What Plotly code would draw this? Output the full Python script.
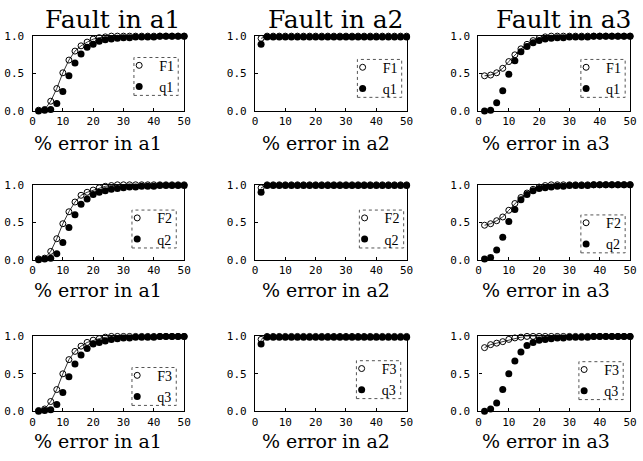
import plotly.graph_objects as go

# ---------------- data ----------------
x_err = [2, 4, 6, 8, 10, 12, 14, 16, 18, 20, 22, 24, 26, 28, 30,
         32, 34, 36, 38, 40, 42, 44, 46, 48, 50]

col_params = ["a1", "a2", "a3"]
row_labels = ["1", "2", "3"]

# Fault in a1
F1_a1 = [0.01, 0.02, 0.13, 0.30, 0.51, 0.68, 0.80, 0.87, 0.92, 0.96, 0.98, 0.99, 1.0,
         1.0, 1.0, 1.0, 1.0, 1.0, 1.0, 1.0, 1.0, 1.0, 1.0, 1.0, 1.0]
q1_a1 = [0.0, 0.01, 0.02, 0.10, 0.26, 0.47, 0.64, 0.76, 0.85, 0.89, 0.93, 0.95, 0.96,
         0.97, 0.98, 0.98, 0.99, 0.99, 0.99, 0.99, 1.0, 1.0, 1.0, 1.0, 1.0]
F2_a1 = [0.01, 0.02, 0.11, 0.28, 0.48, 0.64, 0.77, 0.86, 0.90, 0.93, 0.96, 0.98, 0.99,
         1.0, 1.0, 1.0, 1.0, 1.0, 1.0, 1.0, 1.0, 1.0, 1.0, 1.0, 1.0]
q2_a1 = [0.0, 0.01, 0.02, 0.08, 0.23, 0.43, 0.60, 0.74, 0.81, 0.87, 0.90, 0.92, 0.94,
         0.95, 0.96, 0.97, 0.97, 0.98, 0.98, 0.98, 0.99, 0.99, 0.99, 0.99, 0.99]
F3_a1 = [0.01, 0.03, 0.13, 0.29, 0.50, 0.69, 0.80, 0.87, 0.92, 0.95, 0.97, 0.99, 1.0,
         1.0, 1.0, 1.0, 1.0, 1.0, 1.0, 1.0, 1.0, 1.0, 1.0, 1.0, 1.0]
q3_a1 = [0.0, 0.01, 0.02, 0.09, 0.25, 0.46, 0.63, 0.75, 0.84, 0.90, 0.92, 0.94, 0.96,
         0.97, 0.98, 0.98, 0.99, 0.99, 0.99, 0.99, 1.0, 1.0, 1.0, 1.0, 1.0]

# Fault in a2
F1_a2 = [0.97, 1.0, 1.0, 1.0, 1.0, 1.0, 1.0, 1.0, 1.0, 1.0, 1.0, 1.0, 1.0,
         1.0, 1.0, 1.0, 1.0, 1.0, 1.0, 1.0, 1.0, 1.0, 1.0, 1.0, 1.0]
q1_a2 = [0.89, 0.99, 0.99, 0.99, 0.99, 0.99, 0.99, 0.99, 0.99, 0.99, 0.99, 0.99, 0.99,
         0.99, 0.99, 0.99, 0.99, 0.99, 0.99, 0.99, 0.99, 0.99, 0.99, 0.99, 0.99]
F2_a2 = [0.96, 1.0, 1.0, 1.0, 1.0, 1.0, 1.0, 1.0, 1.0, 1.0, 1.0, 1.0, 1.0,
         1.0, 1.0, 1.0, 1.0, 1.0, 1.0, 1.0, 1.0, 1.0, 1.0, 1.0, 1.0]
q2_a2 = [0.90, 0.99, 0.99, 0.99, 0.99, 0.99, 0.99, 0.99, 0.99, 0.99, 0.99, 0.99, 0.99,
         0.99, 0.99, 0.99, 0.99, 0.99, 0.99, 0.99, 0.99, 0.99, 0.99, 0.99, 0.99]
F3_a2 = [0.96, 1.0, 1.0, 1.0, 1.0, 1.0, 1.0, 1.0, 1.0, 1.0, 1.0, 1.0, 1.0,
         1.0, 1.0, 1.0, 1.0, 1.0, 1.0, 1.0, 1.0, 1.0, 1.0, 1.0, 1.0]
q3_a2 = [0.90, 0.99, 0.99, 0.99, 0.99, 0.99, 0.99, 0.99, 0.99, 0.99, 0.99, 0.99, 0.99,
         0.99, 0.99, 0.99, 0.99, 0.99, 0.99, 0.99, 0.99, 0.99, 0.99, 0.99, 0.99]

# Fault in a3
F1_a3 = [0.47, 0.48, 0.51, 0.57, 0.66, 0.75, 0.83, 0.89, 0.94, 0.97, 0.99, 1.0, 1.0,
         1.0, 1.0, 1.0, 1.0, 1.0, 1.0, 1.0, 1.0, 1.0, 1.0, 1.0, 1.0]
q1_a3 = [0.0, 0.01, 0.11, 0.27, 0.49, 0.67, 0.79, 0.86, 0.91, 0.94, 0.96, 0.97, 0.98,
         0.98, 0.99, 0.99, 0.99, 0.99, 1.0, 1.0, 1.0, 1.0, 1.0, 1.0, 1.0]
F2_a3 = [0.46, 0.48, 0.52, 0.57, 0.66, 0.75, 0.83, 0.89, 0.94, 0.97, 0.99, 1.0, 1.0,
         1.0, 1.0, 1.0, 1.0, 1.0, 1.0, 1.0, 1.0, 1.0, 1.0, 1.0, 1.0]
q2_a3 = [0.01, 0.03, 0.13, 0.30, 0.51, 0.67, 0.80, 0.87, 0.92, 0.95, 0.96, 0.97, 0.98,
         0.98, 0.99, 0.99, 0.99, 0.99, 1.0, 1.0, 1.0, 1.0, 1.0, 1.0, 1.0]
F3_a3 = [0.85, 0.89, 0.91, 0.93, 0.96, 0.98, 0.99, 1.0, 1.0, 1.0, 1.0, 1.0, 1.0,
         1.0, 1.0, 1.0, 1.0, 1.0, 1.0, 1.0, 1.0, 1.0, 1.0, 1.0, 1.0]
q3_a3 = [0.0, 0.03, 0.11, 0.29, 0.50, 0.67, 0.79, 0.88, 0.92, 0.95, 0.96, 0.97, 0.98,
         0.98, 0.99, 0.99, 0.99, 0.99, 1.0, 1.0, 1.0, 1.0, 1.0, 1.0, 1.0]

F_series = [[F1_a1, F1_a2, F1_a3], [F2_a1, F2_a2, F2_a3], [F3_a1, F3_a2, F3_a3]]
q_series = [[q1_a1, q1_a2, q1_a3], [q2_a1, q2_a2, q2_a3], [q3_a1, q3_a2, q3_a3]]

x_ticks = [0, 10, 20, 30, 40, 50]
y_ticks = [0, 0.5, 1.0]
y_ticktext = ["0.0", "0.5", "1.0"]

# ---------------- layout geometry (pixels) ----------------
W, H = 643, 461
col_px = [(30, 184), (256, 410), (483, 637)]
row_px = [(31, 108), (184, 261), (340, 417)]
title_cx = [112, 338, 570]
xtitle_cx = [97, 328, 552]
xtitle_cy = [141, 292, 448]
legend_box = [  # (left, top, right, bottom) of dotted legend frames
    [(133, 53, 178, 92), (360, 55, 405, 94), (587, 55, 632, 94)],
    [(131, 210, 176, 249), (362, 210, 407, 249), (587, 215, 632, 254)],
    [(131, 372, 176, 411), (359, 365, 404, 404), (585, 366, 630, 405)],
]

def px_x(p):
    return p / W

def px_y(p):
    return 1 - p / H

fig = go.Figure()
layout_upd = {}
annotations = []
shapes = []

serif = "DejaVu Serif"
tickfont = dict(family="DejaVu Sans Mono", size=11, color="black")

for r in range(3):
    for c in range(3):
        k = r * 3 + c + 1
        xa = "x" if k == 1 else f"x{k}"
        ya = "y" if k == 1 else f"y{k}"
        lg = "legend" if k == 1 else f"legend{k}"
        Fvals = F_series[r][c]
        qvals = q_series[r][c]
        # line through F points
        fig.add_trace(go.Scatter(x=x_err, y=Fvals, mode="lines",
                                 line=dict(color="black", width=0.8),
                                 showlegend=False, xaxis=xa, yaxis=ya,
                                 cliponaxis=False, hoverinfo="skip"))
        fig.add_trace(go.Scatter(x=x_err, y=Fvals, mode="markers",
                                 name=f"F{row_labels[r]}",
                                 marker=dict(symbol="circle-open", size=6,
                                             color="black", line=dict(width=1)),
                                 xaxis=xa, yaxis=ya, legend=lg, cliponaxis=False))
        fig.add_trace(go.Scatter(x=x_err, y=qvals, mode="markers",
                                 name=f"q{row_labels[r]}",
                                 marker=dict(symbol="circle", size=7, color="black"),
                                 xaxis=xa, yaxis=ya, legend=lg, cliponaxis=False))

        xd = [px_x(col_px[c][0]), px_x(col_px[c][1])]
        yd = [px_y(row_px[r][1]), px_y(row_px[r][0])]
        axis_common = dict(showline=True, linecolor="black", linewidth=1.2,
                           mirror=True, showgrid=False, zeroline=False,
                           ticks="inside", ticklen=3, tickcolor="black",
                           tickfont=tickfont)
        layout_upd["xaxis" if k == 1 else f"xaxis{k}"] = dict(
            domain=xd, range=[0, 50], tickvals=x_ticks,
            anchor=ya, **axis_common)
        layout_upd["yaxis" if k == 1 else f"yaxis{k}"] = dict(
            domain=yd, range=[0, 1], tickvals=y_ticks, ticktext=y_ticktext,
            anchor=xa, ticklabelstandoff=5, **axis_common)

        bl, bt, br, bb = legend_box[r][c]
        layout_upd[lg] = dict(x=px_x(bl - 15), y=px_y(bt - 8), xanchor="left",
                              yanchor="top", bgcolor="rgba(0,0,0,0)",
                              borderwidth=0, tracegroupgap=0,
                              font=dict(family="Liberation Serif", size=14,
                                        color="black"))
        shapes.append(dict(type="rect", xref="paper", yref="paper",
                           x0=px_x(bl), x1=px_x(br), y0=px_y(bb), y1=px_y(bt),
                           line=dict(color="#555555", width=1, dash="dot")))

        if r == 0:
            annotations.append(dict(text=f"Fault in {col_params[c]}",
                                    x=px_x(title_cx[c]), y=px_y(14),
                                    xref="paper", yref="paper",
                                    xanchor="center", yanchor="middle",
                                    showarrow=False,
                                    font=dict(family=serif, size=25, color="black")))
        annotations.append(dict(text=f"% error in {col_params[c]}",
                                x=px_x(xtitle_cx[c]), y=px_y(xtitle_cy[r]),
                                xref="paper", yref="paper",
                                xanchor="center", yanchor="middle",
                                showarrow=False,
                                font=dict(family=serif, size=19, color="black")))

fig.update_layout(width=W, height=H, margin=dict(l=0, r=0, t=0, b=0),
                  paper_bgcolor="white", plot_bgcolor="white",
                  annotations=annotations, shapes=shapes, **layout_upd)

fig.write_html("out.html")
